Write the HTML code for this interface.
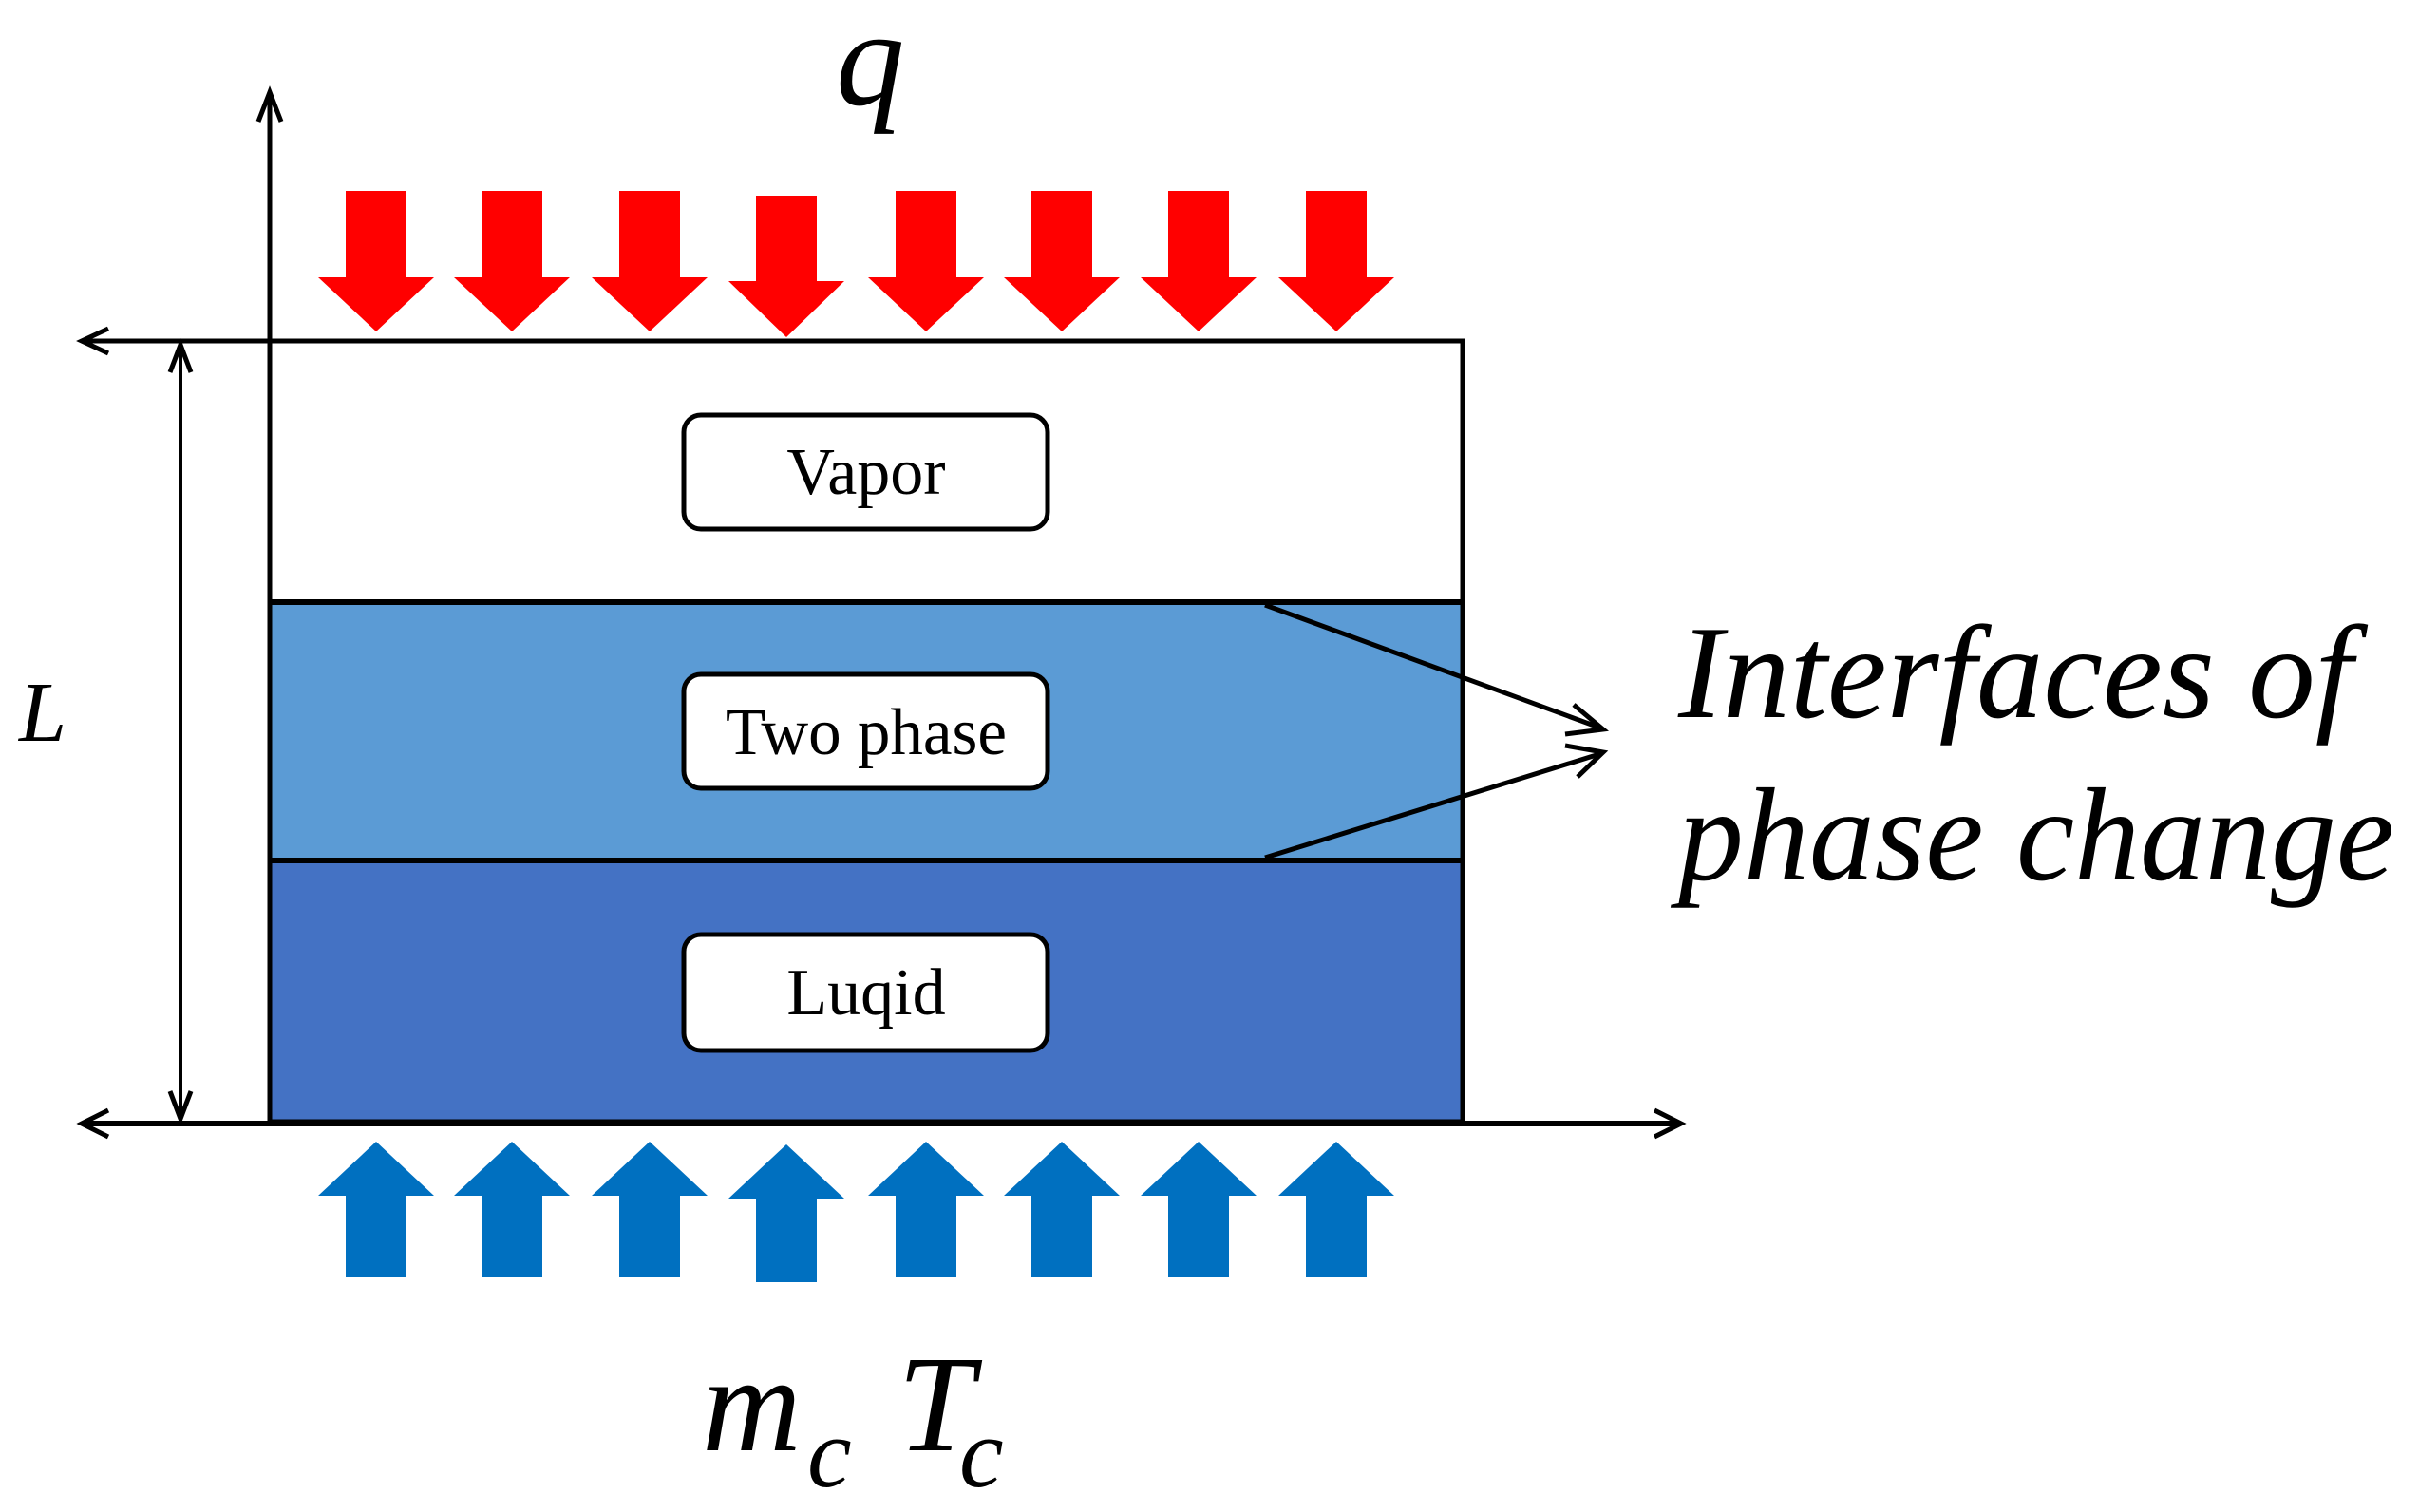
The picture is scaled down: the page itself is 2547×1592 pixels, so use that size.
<!DOCTYPE html>
<html><head><style>html,body{margin:0;padding:0;background:#fff}svg{display:block}</style></head>
<body>
<svg width="2547" height="1592" viewBox="0 0 2547 1592" xmlns="http://www.w3.org/2000/svg">
<!-- layers -->
<rect x="284" y="359" width="1256" height="275" fill="#fff"/>
<rect x="284" y="634" width="1256" height="272" fill="#5B9BD5"/>
<rect x="284" y="906" width="1256" height="275" fill="#4472C4"/>
<rect x="284" y="359" width="1256" height="822" fill="none" stroke="#000" stroke-width="5"/>
<line x1="284" y1="634" x2="1540" y2="634" stroke="#000" stroke-width="6"/>
<line x1="284" y1="906" x2="1540" y2="906" stroke="#000" stroke-width="6"/>
<!-- axes -->
<g stroke="#000" stroke-width="5" fill="none" stroke-linejoin="miter">
<line x1="284" y1="100" x2="284" y2="1183"/>
<polyline points="272,128 284,97 296,128"/>
<line x1="88" y1="359" x2="284" y2="359"/>
<polyline points="114,346 86,359 114,372"/>
<line x1="88" y1="1183" x2="1768" y2="1183" stroke-width="6"/>
<polyline points="114,1169 86,1183 114,1197"/>
<polyline points="1742,1169 1770,1183 1742,1197"/>
<line x1="190" y1="366" x2="190" y2="1175" stroke-width="4"/>
<polyline points="179,392 190,363 201,392"/>
<polyline points="179,1149 190,1178 201,1149"/>
<line x1="1332" y1="637" x2="1684" y2="766"/>
<line x1="1332" y1="903" x2="1684" y2="794"/>
<polyline points="1657,742 1688,768 1648,773"/>
<polyline points="1648,785 1688,792 1661,818"/>
</g>
<!-- red arrows -->
<g fill="#FF0000">
<polygon points="364,201 428,201 428,292 457,292 396,349 335,292 364,292"/>
<polygon points="507,201 571,201 571,292 600,292 539,349 478,292 507,292"/>
<polygon points="652,201 716,201 716,292 745,292 684,349 623,292 652,292"/>
<polygon points="796,206 860,206 860,296 889,296 828,355 767,296 796,296"/>
<polygon points="943,201 1007,201 1007,292 1036,292 975,349 914,292 943,292"/>
<polygon points="1086,201 1150,201 1150,292 1179,292 1118,349 1057,292 1086,292"/>
<polygon points="1230,201 1294,201 1294,292 1323,292 1262,349 1201,292 1230,292"/>
<polygon points="1375,201 1439,201 1439,292 1468,292 1407,349 1346,292 1375,292"/>
</g>
<!-- blue arrows -->
<g fill="#0070C0">
<polygon points="364,1345 428,1345 428,1259 457,1259 396,1202 335,1259 364,1259"/>
<polygon points="507,1345 571,1345 571,1259 600,1259 539,1202 478,1259 507,1259"/>
<polygon points="652,1345 716,1345 716,1259 745,1259 684,1202 623,1259 652,1259"/>
<polygon points="796,1350 860,1350 860,1262 889,1262 828,1205 767,1262 796,1262"/>
<polygon points="943,1345 1007,1345 1007,1259 1036,1259 975,1202 914,1259 943,1259"/>
<polygon points="1086,1345 1150,1345 1150,1259 1179,1259 1118,1202 1057,1259 1086,1259"/>
<polygon points="1230,1345 1294,1345 1294,1259 1323,1259 1262,1202 1201,1259 1230,1259"/>
<polygon points="1375,1345 1439,1345 1439,1259 1468,1259 1407,1202 1346,1259 1375,1259"/>
</g>
<!-- label boxes -->
<g fill="#fff" stroke="#000" stroke-width="5">
<rect x="720" y="437" width="383" height="120" rx="18"/>
<rect x="720" y="710" width="383" height="120" rx="18"/>
<rect x="720" y="984" width="383" height="122" rx="18"/>
</g>
<g font-family="Liberation Serif, serif" font-size="70" text-anchor="middle" fill="#000">
<text x="912" y="520">Vapor</text>
<text x="912" y="794" textLength="296" lengthAdjust="spacingAndGlyphs">Two phase</text>
<text x="912" y="1068">Luqid</text>
</g>
<!-- math labels -->
<g font-family="Liberation Serif, serif" font-style="italic" fill="#000">
<text x="880" y="110" font-size="145">q</text>
<text x="20" y="780" font-size="90">L</text>
<text x="1767" y="755" font-size="140" textLength="710" lengthAdjust="spacingAndGlyphs">Interfaces of</text>
<text x="1767" y="926" font-size="140" textLength="754" lengthAdjust="spacingAndGlyphs">phase change</text>
<text x="739" y="1527" font-size="145">m</text>
<text x="850" y="1565" font-size="105">c</text>
<text x="945" y="1527" font-size="145">T</text>
<text x="1010" y="1565" font-size="105">c</text>
</g>
</svg>
</body></html>
